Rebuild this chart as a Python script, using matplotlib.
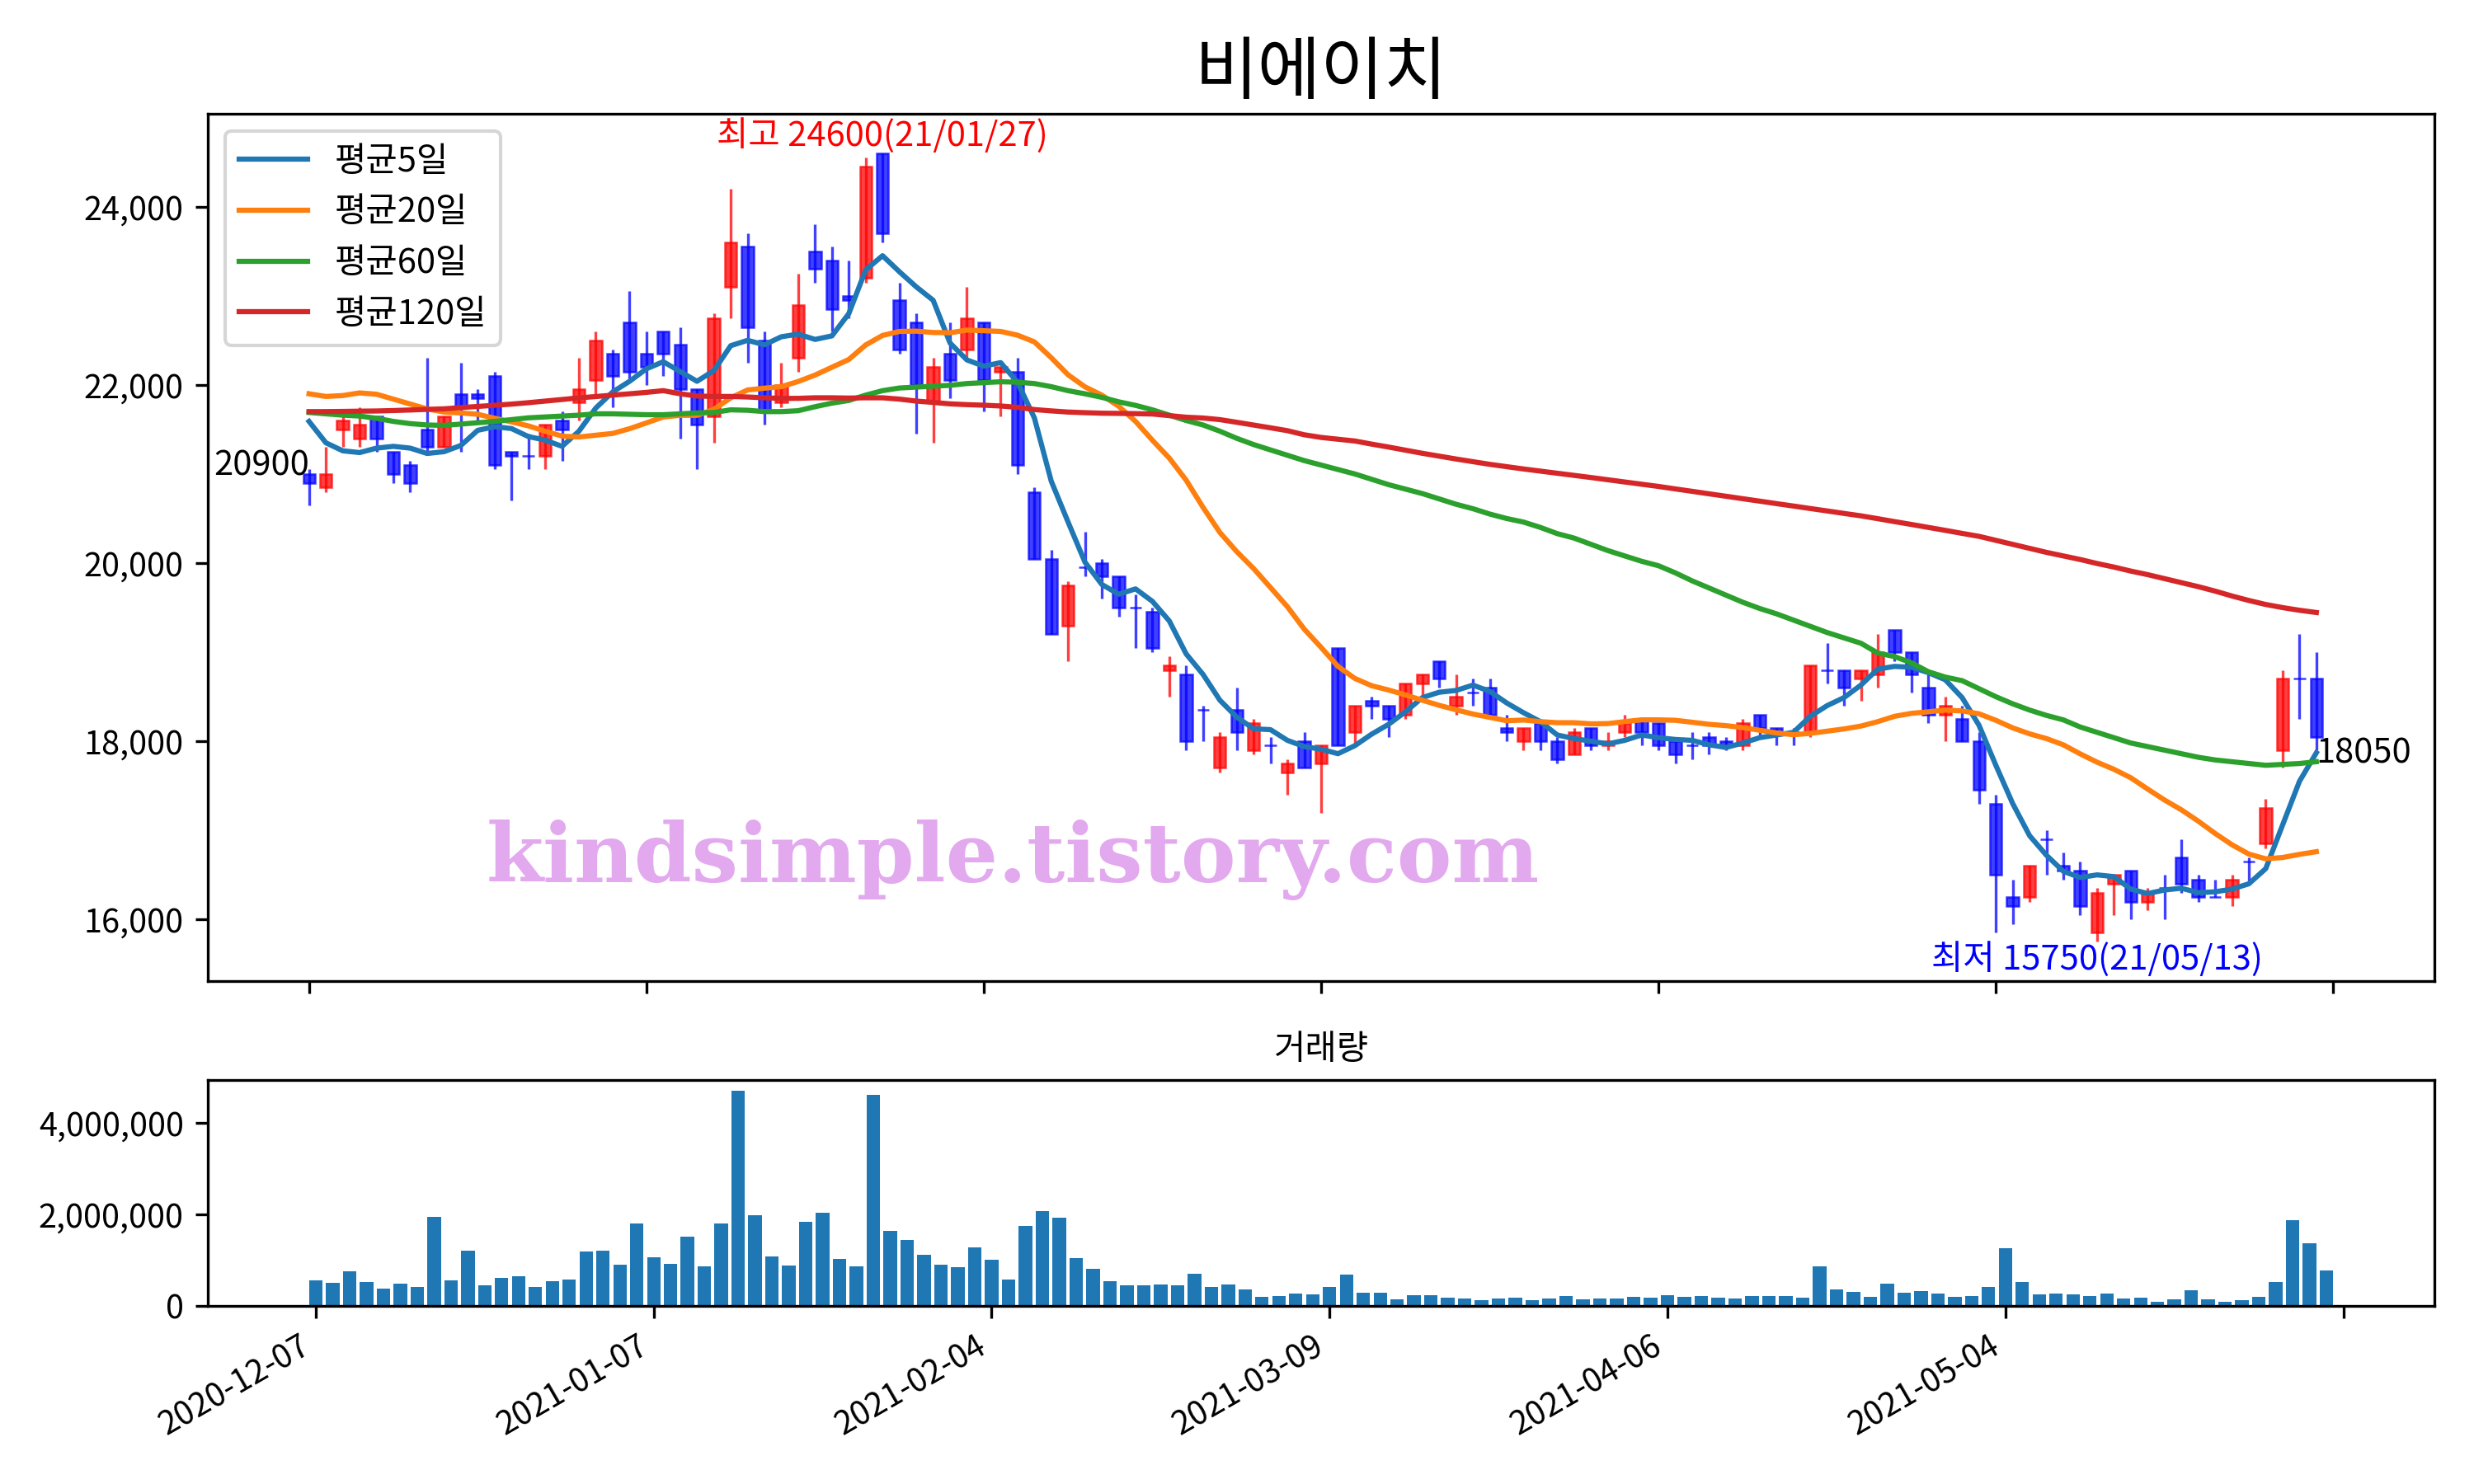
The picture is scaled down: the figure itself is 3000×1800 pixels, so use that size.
import numpy as np
import matplotlib
matplotlib.use("Agg")
import matplotlib.pyplot as plt
from matplotlib.ticker import FuncFormatter

plt.rcParams['font.family'] = ['Noto Sans CJK KR', 'DejaVu Sans']
plt.rcParams['axes.unicode_minus'] = False

#------------------------------------------------------------------------
# 일봉 데이터 (2020-12-07 ~ 2021-06-02, 120 거래일)

open_ = [21000, 20850, 21500, 21400, 21650, 21250, 21100, 21500, 21300, 21900,
         21900, 22100, 21250, 21200, 21200, 21600, 21800, 22050, 22350, 22700,
         22350, 22600, 22450, 21950, 21650, 23100, 23550, 22500, 21800, 22300,
         23500, 23400, 23000, 23200, 24600, 22950, 22700, 21800, 22350, 22400,
         22700, 22150, 22150, 20800, 20050, 19300, 19950, 20000, 19850, 19500,
         19450, 18800, 18750, 18350, 17700, 18350, 17900, 17950, 17650, 18000,
         17750, 19050, 18100, 18450, 18400, 18300, 18650, 18900, 18400, 18550,
         18600, 18150, 18000, 18200, 18000, 17850, 18150, 17950, 18100, 18250,
         18200, 18000, 17950, 18050, 18000, 17950, 18300, 18150, 18100, 18100,
         18800, 18800, 18700, 18750, 19250, 19000, 18600, 18300, 18250, 18000,
         17300, 16250, 16250, 16900, 16600, 16550, 15850, 16400, 16550, 16200,
         16350, 16700, 16450, 16250, 16250, 16650, 16850, 17900, 18700, 18700]

high = [21050, 21300, 21650, 21750, 21650, 21250, 21150, 22300, 21650, 22250,
        21950, 22150, 21250, 21450, 21550, 21700, 22300, 22600, 22400, 23050,
        22600, 22600, 22650, 21950, 22800, 24200, 23700, 22600, 22250, 23250,
        23800, 23550, 23400, 24550, 24600, 23150, 22800, 22300, 22700, 23100,
        22700, 22200, 22300, 20850, 20150, 19800, 20350, 20050, 19850, 19650,
        19500, 18950, 18850, 18400, 18100, 18600, 18250, 18050, 17800, 18100,
        17950, 19050, 18400, 18500, 18400, 18650, 18750, 18900, 18750, 18700,
        18700, 18300, 18150, 18250, 18050, 18150, 18150, 18100, 18300, 18250,
        18200, 18000, 18100, 18100, 18050, 18250, 18300, 18150, 18150, 18850,
        19100, 18800, 18800, 19200, 19250, 19000, 18750, 18500, 18400, 18100,
        17400, 16450, 16600, 17000, 16750, 16650, 16350, 16500, 16550, 16350,
        16500, 16900, 16500, 16450, 16500, 16700, 17350, 18800, 19200, 19000]

low = [20650, 20800, 21300, 21300, 21250, 20900, 20800, 21250, 21300, 21250,
       21600, 21050, 20700, 21050, 21050, 21150, 21600, 21900, 21750, 22050,
       22000, 22100, 21400, 21050, 21350, 22750, 22250, 21550, 21750, 22150,
       23150, 22600, 22750, 23150, 23600, 22350, 21450, 21350, 21850, 22300,
       21700, 21650, 21000, 20050, 19200, 18900, 19850, 19600, 19400, 19050,
       19000, 18500, 17900, 18000, 17650, 17900, 17850, 17750, 17400, 17700,
       17200, 17950, 17950, 18250, 18050, 18250, 18500, 18600, 18300, 18400,
       18300, 18000, 17900, 17900, 17750, 17850, 17900, 17900, 18050, 17950,
       17900, 17750, 17800, 17850, 17900, 17900, 18050, 17950, 17950, 18050,
       18650, 18400, 18450, 18600, 18900, 18550, 18200, 18000, 18000, 17300,
       15850, 15950, 16200, 16500, 16450, 16050, 15750, 16050, 16000, 16100,
       16000, 16300, 16200, 16250, 16150, 16400, 16800, 17700, 18250, 17900]

close = [20900, 21000, 21600, 21550, 21400, 21000, 20900, 21300, 21650, 21750,
         21850, 21100, 21200, 21200, 21550, 21500, 21950, 22500, 22100, 22150,
         22200, 22350, 21950, 21550, 22750, 23600, 22650, 21700, 22000, 22900,
         23300, 22850, 22950, 24450, 23700, 22400, 22000, 22200, 22050, 22750,
         22050, 22200, 21100, 20050, 19200, 19750, 19950, 19850, 19500, 19500,
         19050, 18850, 18000, 18350, 18050, 18100, 18200, 17950, 17750, 17700,
         17950, 17950, 18400, 18400, 18250, 18650, 18750, 18700, 18500, 18550,
         18300, 18100, 18150, 18000, 17800, 18100, 17950, 18000, 18200, 18100,
         17950, 17850, 17950, 17950, 17950, 18200, 18150, 18100, 18100, 18850,
         18800, 18600, 18800, 19000, 19000, 18750, 18300, 18400, 18000, 17450,
         16500, 16150, 16600, 16900, 16550, 16150, 16300, 16500, 16200, 16300,
         16350, 16400, 16250, 16250, 16450, 16650, 17250, 18700, 18700, 18050]

volume = [563000, 509000, 760000, 527000, 383000, 491000, 419000, 1946000, 563000, 1210000,
          455000, 617000, 653000, 419000, 545000, 581000, 1192000, 1210000, 904000, 1802000,
          1066000, 922000, 1515000, 868000, 1802000, 4695000, 1982000, 1084000, 886000, 1838000,
          2036000, 1030000, 868000, 4605000, 1641000, 1443000, 1120000, 904000, 850000, 1281000,
          1012000, 581000, 1748000, 2072000, 1928000, 1048000, 814000, 545000, 455000, 455000,
          473000, 455000, 707000, 419000, 473000, 365000, 204000, 222000, 275000, 257000,
          419000, 689000, 293000, 293000, 150000, 240000, 240000, 186000, 168000, 132000,
          168000, 186000, 132000, 168000, 222000, 150000, 168000, 168000, 204000, 186000,
          240000, 204000, 222000, 186000, 168000, 222000, 222000, 222000, 186000, 868000,
          365000, 311000, 204000, 491000, 293000, 329000, 275000, 204000, 222000, 419000,
          1263000, 527000, 257000, 275000, 257000, 222000, 275000, 168000, 186000, 96000,
          150000, 347000, 150000, 96000, 132000, 204000, 527000, 1874000, 1371000, 778000]

#------------------------------------------------------------------------
# 이동평균

ma5 = [21590, 21350, 21260, 21240, 21290, 21310, 21290, 21230, 21250, 21320,
       21490, 21530, 21510, 21420, 21380, 21310, 21480, 21740, 21920, 22040,
       22180, 22260, 22150, 22040, 22160, 22440, 22500, 22450, 22540, 22570,
       22510, 22550, 22800, 23290, 23450, 23270, 23100, 22950, 22470, 22280,
       22210, 22250, 22030, 21630, 20920, 20460, 20010, 19760, 19650, 19710,
       19570, 19350, 18980, 18750, 18460, 18270, 18140, 18130, 18010, 17940,
       17910, 17860, 17950, 18080, 18190, 18330, 18490, 18550, 18570, 18630,
       18560, 18430, 18320, 18220, 18070, 18030, 18000, 17970, 18010, 18070,
       18040, 18020, 18010, 17960, 17930, 17980, 18040, 18070, 18100, 18280,
       18400, 18490, 18630, 18810, 18840, 18830, 18770, 18690, 18490, 18180,
       17730, 17300, 16940, 16720, 16540, 16470, 16500, 16480, 16340, 16290,
       16330, 16350, 16300, 16310, 16340, 16400, 16570, 17060, 17550, 17870]

ma20 = [21900, 21870, 21880, 21910, 21895, 21840, 21785, 21730, 21695, 21685,
        21670, 21625, 21585, 21540, 21480, 21425, 21415, 21435, 21455, 21508,
        21573, 21640, 21658, 21658, 21725, 21855, 21943, 21963, 21980, 22038,
        22110, 22198, 22285, 22448, 22555, 22600, 22603, 22588, 22585, 22615,
        22608, 22600, 22558, 22483, 22305, 22113, 21978, 21885, 21760, 21590,
        21378, 21178, 20930, 20625, 20343, 20128, 19938, 19725, 19510, 19258,
        19053, 18840, 18705, 18623, 18575, 18520, 18460, 18403, 18353, 18305,
        18268, 18230, 18238, 18220, 18208, 18208, 18195, 18198, 18220, 18240,
        18240, 18235, 18213, 18190, 18175, 18153, 18123, 18093, 18073, 18088,
        18113, 18138, 18170, 18220, 18280, 18313, 18330, 18350, 18340, 18308,
        18235, 18150, 18083, 18030, 17960, 17858, 17765, 17685, 17590, 17463,
        17340, 17230, 17103, 16965, 16838, 16733, 16680, 16695, 16730, 16760]

ma60 = [21690, 21675, 21660, 21650, 21625, 21590, 21565, 21550, 21545, 21560,
        21575, 21590, 21610, 21630, 21640, 21650, 21660, 21675, 21675, 21670,
        21665, 21665, 21675, 21685, 21690, 21720, 21715, 21700, 21700, 21710,
        21755, 21795, 21825, 21885, 21935, 21965, 21975, 21985, 21995, 22015,
        22025, 22035, 22030, 22015, 21980, 21935, 21900, 21860, 21810, 21770,
        21720, 21660, 21600, 21550, 21480, 21400, 21330, 21270, 21210, 21150,
        21100, 21050, 21000, 20940, 20880, 20830, 20780, 20720, 20660, 20610,
        20550, 20500, 20460, 20400, 20330, 20280, 20210, 20140, 20080, 20020,
        19970, 19890, 19800, 19720, 19640, 19560, 19490, 19430, 19360, 19290,
        19220, 19160, 19100, 18990, 18950, 18880, 18780, 18720, 18680, 18590,
        18500, 18420, 18350, 18290, 18240, 18160, 18100, 18040, 17980, 17940,
        17900, 17860, 17820, 17790, 17770, 17750, 17730, 17740, 17750, 17770]

ma120 = [21700, 21700, 21702, 21705, 21707, 21712, 21718, 21725, 21731, 21745,
         21758, 21771, 21784, 21800, 21818, 21836, 21854, 21869, 21885, 21900,
         21916, 21935, 21900, 21875, 21870, 21870, 21864, 21855, 21848, 21849,
         21855, 21855, 21852, 21855, 21855, 21840, 21818, 21803, 21787, 21778,
         21772, 21763, 21748, 21723, 21708, 21695, 21688, 21682, 21680, 21677,
         21673, 21655, 21637, 21628, 21610, 21580, 21549, 21518, 21486, 21440,
         21410, 21390, 21370, 21335, 21302, 21267, 21232, 21200, 21168, 21138,
         21108, 21082, 21056, 21032, 21008, 20984, 20960, 20935, 20910, 20885,
         20860, 20832, 20805, 20777, 20750, 20722, 20695, 20667, 20640, 20612,
         20585, 20557, 20530, 20498, 20465, 20433, 20400, 20367, 20333, 20300,
         20255, 20210, 20165, 20120, 20080, 20040, 19995, 19955, 19910, 19870,
         19825, 19780, 19735, 19685, 19630, 19580, 19535, 19500, 19470, 19445]

tick_pos = [0, 20, 40, 60, 80, 100, 120]
tick_dates = ['2020-12-07', '2021-01-07', '2021-02-04', '2021-03-09', '2021-04-06', '2021-05-04', '']

#------------------------------------------------------------------------
#!그래프

fig, (ax1, ax2) = plt.subplots(2, 1, figsize=(10, 6), dpi=300,
                               gridspec_kw={'height_ratios': [1052, 274]})
fig.subplots_adjust(left=0.084, right=0.984, bottom=0.12, top=0.9233, hspace=0.181)

x = np.arange(len(close))
o = np.array(open_)
c = np.array(close)
colors = np.where(c > o, 'r', 'b')

#캔들
ax1.vlines(x, low, high, colors=colors, linewidth=0.8, alpha=0.75)
ax1.bar(x, c - o, bottom=o, width=0.7, color=colors, edgecolor=colors,
        linewidth=0.6, alpha=0.75)

#이동평균선
ax1.plot(x, ma5, label='평균5일')
ax1.plot(x, ma20, label='평균20일')
ax1.plot(x, ma60, label='평균60일')
ax1.plot(x, ma120, label='평균120일')
ax1.legend(loc='upper left', fontsize=10)

lo, hi = min(low), max(high)
pad = (hi - lo) * 0.05
ax1.set_xlim(-6, 126)
ax1.set_ylim(lo - pad, hi + pad)
ax1.set_xticks(tick_pos)
ax1.tick_params(labelbottom=False, labelsize=9.5)
ax1.yaxis.set_major_formatter(FuncFormatter(lambda v, p: f'{v:,.0f}'))
ax1.set_title('비에이치', fontsize=20)

#최고 / 최저 / 처음 / 마지막
i_hi = int(np.argmax(high))
i_lo = int(np.argmin(low))
ax1.text(i_hi, high[i_hi], f'최고 {high[i_hi]}(21/01/27)', color='red',
         ha='center', va='bottom', fontsize=10)
ax1.text(i_lo, low[i_lo], f'최저 {low[i_lo]}(21/05/13)', color='blue',
         ha='center', va='top', fontsize=10)
ax1.text(0, close[0], str(close[0]), ha='right', va='bottom', fontsize=10)
ax1.text(len(close) - 1, close[-1], str(close[-1]), ha='left', va='top', fontsize=10)

ax1.text(0.3615, 0.14, 'kindsimple.tistory.com', transform=ax1.transAxes,
         ha='center', va='center', fontsize=24, color='#e3a9ee',
         family='DejaVu Serif', weight='heavy')

#거래량
ax2.bar(x, volume, width=0.8)
ax2.set_title('거래량', fontsize=10)
ax2.set_xticks(tick_pos)
ax2.set_xticklabels(tick_dates, rotation=30, ha='right')
ax2.tick_params(labelsize=9.5)
ax2.yaxis.set_major_formatter(FuncFormatter(lambda v, p: f'{v:,.0f}'))

plt.savefig('out.png')
